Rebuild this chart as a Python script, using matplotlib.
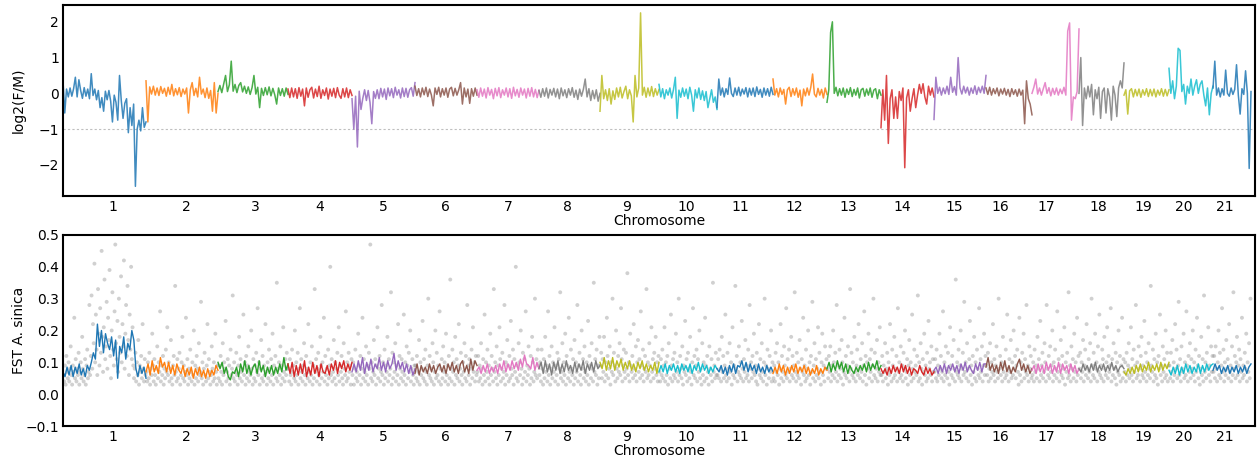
import numpy as np
import matplotlib.pyplot as plt

# cromosomas, longitudes aproximadas (Mb) y posicion de la etiqueta de cada uno
chrom_names = [str(i) for i in range(1, 22)]
chrom_len = [83, 72, 70, 64, 63, 62, 62, 61, 59, 58, 56, 54, 54, 53, 52, 46, 47, 45, 45, 44, 38]
chrom_center = [50, 123, 192, 257, 320, 382, 445, 504, 564, 623, 677, 731, 785, 839, 891, 937, 983,
                1035, 1080, 1121, 1162]

# log2(F/M) por ventana, un bloque por cromosoma
log2_fm = [
    [0.35, -0.55, 0.12, -0.1, 0.15, -0.08, 0.13, 0.45, -0.1, 0.38, 0.08, -0.14, 0.16, -0.08, 0.12, -0.15,
     0.55, -0.06, 0.12, -0.18, 0.08, -0.4, -0.12, -0.5, 0.06, -0.18, 0.08, -0.22, -0.8, -0.05, -0.25, -0.75,
     0.5, -0.2, -0.7, -0.28, -0.15, -1.1, -0.4, -0.9, -0.3, -2.6, -1.0, -0.75, -1.05, -0.4, -0.95, -0.8],
    [0.35, -0.8, 0.18, -0.02, 0.2, -0.05, 0.15, -0.06, 0.19, 0.0, 0.14, -0.08, 0.17, -0.03, 0.25, -0.07, 0.13,
     -0.04, 0.16, -0.09, 0.12, -0.02, 0.15, -0.55, 0.1, 0.3, -0.06, 0.14, -0.1, 0.45, -0.02, 0.12, -0.12, 0.15,
     -0.14, 0.08, -0.5, 0.3, -0.55, 0.0],
    [0.05, 0.22, 0.02, 0.26, 0.5, 0.05, 0.24, 0.9, 0.06, 0.25, 0.02, 0.22, 0.3, 0.04, 0.2, 0.0, 0.18, -0.03,
     0.16, 0.5, -0.02, 0.17, -0.4, 0.14, -0.06, 0.16, -0.04, 0.18, -0.07, 0.14, -0.04, -0.3, 0.15, -0.06, 0.13,
     -0.08, 0.15, -0.03],
    [0.12, -0.12, 0.15, -0.1, 0.13, -0.14, 0.16, -0.08, 0.12, -0.35, 0.15, -0.11, 0.1, 0.17, -0.13, 0.12, -0.09,
     0.2, -0.14, 0.1, -0.06, 0.15, -0.16, 0.12, -0.08, 0.14, -0.12, 0.16, -0.05, -0.14, 0.13, -0.1, 0.15, -0.12,
     0.1, -0.06],
    [-0.15, -1.0, -0.08, -1.5, 0.06, -0.45, -0.14, 0.1, -0.2, 0.08, -0.25, -0.85, 0.05, -0.14, 0.1, -0.15, 0.14,
     -0.1, 0.12, -0.17, 0.15, -0.07, 0.13, -0.12, 0.17, -0.05, 0.1, -0.13, 0.15, -0.09, 0.14, -0.11, 0.1, 0.16,
     -0.08, 0.3],
    [0.2, -0.06, 0.13, -0.1, 0.15, -0.04, 0.17, -0.09, 0.12, -0.05, -0.35, 0.15, -0.03, 0.17, -0.1, 0.13, -0.05,
     0.15, -0.11, 0.12, 0.17, -0.07, 0.14, -0.05, 0.1, 0.3, -0.3, 0.15, -0.1, 0.12, -0.28, 0.13, -0.08, 0.15, -0.05],
    [0.1, -0.11, 0.15, -0.08, 0.12, -0.13, 0.16, -0.05, 0.11, -0.15, 0.14, -0.07, 0.16, -0.12, 0.1, -0.05, 0.15,
     -0.1, 0.13, -0.14, 0.17, -0.07, 0.11, -0.11, 0.15, -0.05, 0.12, -0.13, 0.14, -0.08, 0.16, -0.1, 0.11, -0.12, 0.09],
    [0.08, -0.11, 0.13, -0.08, 0.15, -0.13, 0.11, -0.05, 0.14, -0.1, 0.12, -0.15, 0.15, -0.07, 0.1, -0.12, 0.13,
     -0.05, 0.16, -0.11, 0.09, -0.17, 0.12, -0.08, 0.11, 0.4, -0.1, 0.13, -0.2, 0.08, -0.15, 0.1, -0.22, 0.0],
    [-0.5, 0.5, -0.15, 0.1, -0.2, 0.13, -0.3, 0.07, -0.17, 0.15, -0.1, 0.17, -0.13, 0.05, 0.2, -0.15, 0.1, -0.07,
     -0.8, 0.5, -0.1, 0.15, 2.25, -0.05, 0.17, -0.11, 0.15, -0.07, 0.19, -0.09, 0.13, -0.05, 0.11],
    [0.25, -0.1, 0.13, -0.15, 0.1, -0.05, 0.15, -0.13, 0.11, 0.45, -0.7, 0.09, -0.11, 0.15, -0.08, 0.12, -0.15,
     0.17, -0.05, -0.5, 0.1, -0.13, 0.15, -0.17, 0.07, -0.2, 0.05, -0.4, -0.15, 0.1, -0.25, -0.1, -0.45],
    [-0.4, 0.4, -0.05, 0.15, -0.1, 0.13, -0.03, 0.43, 0.0, -0.09, 0.15, -0.05, 0.17, -0.07, 0.12, -0.02, 0.16,
     -0.1, 0.14, -0.05, 0.15, -0.09, 0.18, -0.03, 0.11, -0.11, 0.15, -0.05, 0.13, -0.08, 0.17, -0.03],
    [0.4, -0.05, 0.13, -0.1, 0.15, -0.03, 0.11, -0.3, 0.1, 0.17, -0.09, 0.13, -0.05, 0.15, -0.11, 0.09, -0.35,
     0.12, -0.07, 0.15, -0.05, 0.17, 0.54, -0.02, -0.1, 0.14, -0.05, 0.11, -0.13, 0.15, -0.03],
    [-0.25, 0.1, 1.7, 2.0, 0.0, 0.17, -0.07, 0.13, -0.05, 0.15, -0.11, 0.12, -0.03, 0.16, -0.09, 0.11, -0.05,
     0.15, -0.13, 0.1, 0.14, -0.08, 0.12, -0.05, 0.15, -0.11, 0.09, 0.13, -0.15, 0.1, -0.05],
    [-0.96, 0.1, -0.75, 0.5, -1.4, -0.15, 0.1, -0.7, -0.1, -0.7, 0.05, -0.2, 0.15, -2.08, -0.13, 0.1, -0.5,
     -0.15, 0.13, -0.4, -0.05, 0.25, 0.0, 0.27, -0.1, -0.3, 0.2, -0.05, 0.15, -0.1],
    [-0.73, 0.45, 0.0, 0.17, -0.05, 0.15, -0.01, 0.2, -0.03, 0.45, 0.03, 0.19, -0.05, 1.0, 0.15, -0.02, 0.2,
     0.01, 0.17, -0.05, 0.15, 0.0, 0.21, -0.03, 0.17, 0.02, 0.2, 0.0, 0.5],
    [0.15, -0.03, 0.17, -0.05, 0.13, -0.01, 0.15, -0.07, 0.12, -0.02, 0.14, -0.05, 0.11, -0.09, 0.13, -0.03,
     0.1, -0.08, 0.12, -0.05, 0.09, -0.85, 0.35, -0.15, -0.3, -0.6],
    [0.0, 0.17, 0.4, -0.02, 0.15, -0.05, 0.13, 0.3, 0.0, 0.16, -0.07, 0.14, -0.03, 0.15, -0.05, 0.12, -0.01,
     0.17, -0.05, 1.74, 1.97, -0.75, -0.1, -0.15, 0.05, 1.8],
    [0.0, 1.0, -0.9, 0.15, -0.15, 0.2, -0.1, 0.25, -0.6, 0.1, -0.15, 0.17, -0.7, 0.05, 0.15, -0.55, 0.13, -0.1,
     -0.75, 0.2, -0.05, -0.65, 0.15, 0.35, 0.15, 0.85],
    [-0.05, 0.1, -0.58, 0.07, 0.13, -0.1, 0.11, -0.07, 0.12, -0.11, 0.1, -0.05, 0.13, -0.09, 0.11, -0.07, 0.12,
     -0.1, 0.09, -0.05, 0.13, -0.08, 0.11, -0.07, 0.1],
    [0.7, 0.0, 0.35, -0.15, 0.2, 1.26, 1.2, 0.05, 0.25, -0.3, 0.2, 0.0, 0.4, -0.05, 0.2, 0.38, 0.0, 0.25, 0.35,
     -0.05, -0.35, 0.15, -0.6, 0.0, 0.2],
    [0.15, 0.9, -0.05, 0.15, -0.1, 0.13, -0.05, 0.65, 0.0, -0.08, 0.15, -0.03, 0.11, 0.8, -0.05, -0.58, 0.13,
     -0.03, 0.63, 0.0, -2.1, 0.05],
]

# FST media movil por cromosoma
fst_mean = [
    [0.07, 0.055, 0.085, 0.06, 0.09, 0.055, 0.085, 0.065, 0.095, 0.06, 0.08, 0.055, 0.09, 0.075, 0.1, 0.13, 0.11,
     0.22, 0.15, 0.2, 0.13, 0.19, 0.16, 0.14, 0.18, 0.12, 0.17, 0.05, 0.15, 0.13, 0.18, 0.11, 0.16, 0.14, 0.2,
     0.17, 0.08, 0.055, 0.09, 0.065, 0.085, 0.05],
    [0.07, 0.095, 0.06, 0.105, 0.07, 0.09, 0.065, 0.115, 0.085, 0.1, 0.07, 0.1, 0.065, 0.09, 0.06, 0.095, 0.075,
     0.065, 0.09, 0.055, 0.08, 0.06, 0.085, 0.05, 0.08, 0.06, 0.085, 0.055, 0.075, 0.05, 0.08, 0.055, 0.075,
     0.06, 0.09, 0.075],
    [0.1, 0.08, 0.1, 0.065, 0.085, 0.055, 0.045, 0.07, 0.065, 0.085, 0.055, 0.095, 0.07, 0.105, 0.065, 0.09, 0.06,
     0.085, 0.095, 0.065, 0.105, 0.07, 0.09, 0.055, 0.085, 0.065, 0.09, 0.06, 0.085, 0.065, 0.095, 0.07, 0.115,
     0.075, 0.095],
    [0.095, 0.065, 0.1, 0.055, 0.09, 0.06, 0.095, 0.065, 0.105, 0.055, 0.085, 0.06, 0.1, 0.065, 0.09, 0.055, 0.095,
     0.07, 0.065, 0.09, 0.06, 0.095, 0.075, 0.105, 0.065, 0.1, 0.08, 0.105, 0.07, 0.095, 0.075, 0.1],
    [0.07, 0.095, 0.07, 0.105, 0.075, 0.115, 0.065, 0.1, 0.075, 0.11, 0.07, 0.095, 0.08, 0.115, 0.075, 0.1, 0.07,
     0.105, 0.08, 0.095, 0.128, 0.075, 0.105, 0.08, 0.1, 0.07, 0.095, 0.065, 0.09, 0.06, 0.08],
    [0.065, 0.095, 0.06, 0.09, 0.07, 0.085, 0.065, 0.095, 0.07, 0.09, 0.065, 0.085, 0.095, 0.07, 0.09, 0.065, 0.095,
     0.075, 0.1, 0.07, 0.09, 0.065, 0.095, 0.105, 0.07, 0.09, 0.065, 0.11, 0.075, 0.105, 0.09],
    [0.075, 0.085, 0.065, 0.09, 0.07, 0.095, 0.065, 0.085, 0.07, 0.09, 0.065, 0.095, 0.075, 0.105, 0.07, 0.095, 0.075,
     0.105, 0.08, 0.1, 0.075, 0.11, 0.085, 0.123, 0.095, 0.09, 0.08, 0.115, 0.075, 0.1, 0.08],
    [0.08, 0.1, 0.065, 0.105, 0.07, 0.095, 0.06, 0.1, 0.075, 0.105, 0.065, 0.095, 0.07, 0.105, 0.075, 0.09, 0.065,
     0.1, 0.07, 0.095, 0.075, 0.105, 0.065, 0.095, 0.075, 0.1, 0.07, 0.105, 0.08, 0.09],
    [0.1, 0.08, 0.115, 0.075, 0.105, 0.08, 0.115, 0.075, 0.105, 0.085, 0.11, 0.075, 0.1, 0.08, 0.105, 0.075, 0.095,
     0.07, 0.1, 0.08, 0.105, 0.075, 0.095, 0.07, 0.09, 0.075, 0.1, 0.065, 0.1],
    [0.07, 0.09, 0.07, 0.095, 0.065, 0.09, 0.075, 0.095, 0.07, 0.09, 0.065, 0.095, 0.075, 0.09, 0.07, 0.095, 0.065,
     0.09, 0.075, 0.1, 0.07, 0.095, 0.075, 0.09, 0.065, 0.085, 0.07, 0.09, 0.08],
    [0.08, 0.07, 0.09, 0.065, 0.085, 0.06, 0.09, 0.07, 0.095, 0.065, 0.09, 0.085, 0.105, 0.075, 0.1, 0.07,
     0.095, 0.075, 0.09, 0.065, 0.095, 0.07, 0.085, 0.065, 0.09, 0.07, 0.085, 0.07],
    [0.065, 0.085, 0.065, 0.095, 0.07, 0.09, 0.06, 0.085, 0.065, 0.09, 0.07, 0.095, 0.065, 0.085, 0.07, 0.09, 0.065,
     0.085, 0.06, 0.08, 0.065, 0.09, 0.06, 0.08, 0.065, 0.085, 0.075],
    [0.08, 0.1, 0.07, 0.095, 0.075, 0.105, 0.08, 0.1, 0.07, 0.095, 0.065, 0.09, 0.075, 0.065, 0.085, 0.07, 0.09,
     0.075, 0.095, 0.07, 0.1, 0.075, 0.095, 0.08, 0.105, 0.075, 0.09],
    [0.08, 0.065, 0.08, 0.06, 0.085, 0.065, 0.09, 0.07, 0.085, 0.065, 0.095, 0.07, 0.09, 0.065, 0.085, 0.06, 0.08,
     0.075, 0.065, 0.09, 0.07, 0.06, 0.085, 0.065, 0.08, 0.06, 0.07],
    [0.075, 0.085, 0.065, 0.09, 0.07, 0.095, 0.065, 0.09, 0.075, 0.095, 0.07, 0.09, 0.065, 0.095, 0.075, 0.1, 0.07,
     0.09, 0.075, 0.065, 0.095, 0.075, 0.1, 0.07, 0.095, 0.095],
    [0.085, 0.115, 0.075, 0.095, 0.07, 0.09, 0.065, 0.1, 0.075, 0.105, 0.07, 0.09, 0.065, 0.085, 0.07, 0.095, 0.11,
     0.075, 0.095, 0.07, 0.09, 0.065, 0.08],
    [0.075, 0.09, 0.065, 0.095, 0.07, 0.09, 0.065, 0.1, 0.075, 0.095, 0.065, 0.09, 0.07, 0.1, 0.065, 0.095, 0.075,
     0.09, 0.065, 0.095, 0.07, 0.09, 0.065, 0.08],
    [0.08, 0.07, 0.095, 0.075, 0.09, 0.07, 0.095, 0.075, 0.1, 0.07, 0.09, 0.075, 0.095, 0.07, 0.09, 0.075, 0.1,
     0.075, 0.09, 0.07, 0.085, 0.09, 0.08],
    [0.07, 0.06, 0.08, 0.065, 0.085, 0.065, 0.09, 0.07, 0.095, 0.07, 0.09, 0.075, 0.1, 0.07, 0.09, 0.075, 0.095,
     0.07, 0.1, 0.075, 0.095, 0.08, 0.1],
    [0.075, 0.06, 0.085, 0.065, 0.09, 0.06, 0.085, 0.065, 0.095, 0.07, 0.09, 0.065, 0.085, 0.07, 0.095, 0.065, 0.09,
     0.07, 0.095, 0.075, 0.09, 0.095],
    [0.075, 0.095, 0.075, 0.09, 0.065, 0.085, 0.07, 0.09, 0.065, 0.085, 0.07, 0.09, 0.065, 0.085, 0.07, 0.09, 0.065,
     0.085, 0.095],
]

# FST por SNP/ventana (en centesimas)
fst_snp = [
    [6, 4, 9, 3, 12, 7, 5, 10, 4, 8, 15, 6, 3, 9, 7, 24, 5, 11, 4, 8, 6, 13, 3, 7, 10, 5, 18, 8, 4, 6,
     11, 3, 9, 14, 5, 7, 28, 6,
     12, 31, 8, 22, 16, 41, 10, 25, 14, 6, 33, 19, 9, 27, 13, 45, 18, 7, 21, 36, 11, 15, 29, 8, 24, 17,
     39, 12, 5, 20, 32, 14, 9, 26, 47, 16, 11, 23, 7, 30, 18, 13, 37, 10, 22, 15, 42, 8, 19, 28, 12, 34,
     17, 6, 25, 14, 40, 11, 21, 9,
     5, 8, 13, 4, 10, 6, 17, 3, 9, 7, 12, 5, 22, 8, 4, 11, 6],
    [7, 4, 10, 5, 13, 3, 8, 6, 19, 9, 4, 11, 6, 3, 8, 15, 5, 10, 7, 26, 4, 9, 6, 12, 3, 8, 5, 14, 7, 21,
     6, 10, 4, 8, 17, 5, 3, 9, 12, 6, 34, 7, 4, 11, 5, 8, 13, 3, 6, 10, 18, 5, 9, 4, 7, 24, 6, 11, 3, 8,
     5, 14, 7, 4, 10, 6, 20, 3, 9, 5, 12, 8, 4, 16, 6, 7, 29, 5, 10, 3, 8, 13, 6, 4, 9, 22, 5, 11, 7, 3,
     6, 15, 8, 4, 10, 5, 19, 7, 3, 9],
    [5, 9, 4, 12, 7, 3, 16, 6, 10, 8, 23, 4, 7, 11, 5, 9, 3, 14, 6, 8, 31, 5, 10, 4, 7, 13, 6, 3, 9, 18,
     5, 11, 7, 4, 8, 25, 6, 10, 3, 12, 5, 9, 15, 4, 7, 6, 20, 8, 3, 11, 5, 9, 4, 13, 7, 27, 6, 10, 3, 8,
     17, 5, 12, 4, 9, 6, 22, 7, 3, 10, 5, 14, 8, 4, 11, 6, 19, 3, 9, 7, 12, 5, 35, 4, 8, 10, 6, 15, 3, 9,
     5, 21, 7, 4, 11, 6, 13, 8],
    [8, 4, 11, 6, 3, 14, 7, 9, 5, 20, 4, 10, 6, 13, 3, 8, 27, 5, 11, 7, 4, 9, 16, 6, 3, 12, 8, 5, 22, 7,
     4, 10, 6, 15, 3, 9, 5, 33, 7, 11, 4, 8, 13, 6, 3, 18, 9, 5, 10, 7, 24, 4, 12, 6, 8, 3, 14, 5, 9, 40,
     6, 11, 4, 7, 17, 5, 10, 3, 8, 13, 6, 21, 4, 9, 7, 12, 5, 3, 16, 8, 6, 26, 4, 10, 5, 13, 7, 9, 3, 11],
    [6, 10, 3, 8, 14, 5, 7, 4, 19, 9, 6, 12, 3, 8, 24, 5, 11, 7, 4, 15, 6, 9, 3, 13, 8, 47, 5, 10, 4, 7,
     17, 6, 11, 3, 9, 21, 5, 8, 12, 4, 7, 28, 6, 10, 3, 14, 5, 9, 7, 18, 4, 11, 6, 8, 32, 3, 13, 5, 10, 7,
     16, 4, 9, 6, 22, 3, 12, 8, 5, 11, 7, 4, 25, 6, 10, 3, 15, 9, 5, 13, 7, 20, 4, 8, 11, 6, 3, 9],
    [9, 5, 12, 4, 7, 17, 3, 10, 6, 8, 23, 5, 11, 4, 14, 7, 3, 9, 30, 6, 12, 5, 8, 4, 16, 10, 3, 7, 20, 5,
     13, 6, 9, 4, 26, 8, 3, 11, 5, 15, 7, 10, 4, 19, 6, 9, 3, 12, 5, 36, 8, 4, 14, 7, 10, 3, 18, 6, 11, 5,
     9, 22, 4, 8, 13, 6, 3, 10, 7, 16, 5, 12, 4, 28, 9, 6, 11, 3, 8, 14, 5, 21, 7, 10, 4, 12, 6],
    [7, 12, 4, 9, 5, 16, 8, 3, 11, 6, 25, 4, 10, 7, 14, 5, 9, 3, 19, 6, 12, 8, 4, 33, 7, 10, 5, 15, 3, 9,
     6, 21, 11, 4, 8, 13, 5, 7, 28, 3, 10, 6, 17, 9, 4, 12, 5, 23, 8, 6, 14, 3, 11, 7, 40, 5, 9, 4, 16, 10,
     6, 20, 8, 3, 13, 5, 11, 7, 26, 4, 9, 6, 15, 8, 3, 12, 5, 18, 10, 4, 7, 30, 6, 11, 5, 14, 9],
    [6, 10, 4, 14, 8, 3, 11, 5, 18, 7, 9, 4, 26, 6, 12, 3, 8, 15, 5, 10, 7, 21, 4, 9, 6, 13, 3, 11, 8, 32,
     5, 7, 16, 4, 10, 6, 19, 3, 12, 9, 5, 24, 7, 4, 14, 8, 6, 11, 3, 17, 5, 10, 7, 28, 4, 9, 13, 6, 3, 20,
     8, 11, 5, 15, 7, 4, 10, 6, 23, 3, 12, 9, 5, 16, 8, 4, 35, 7, 11, 6, 14, 3, 9, 5, 18],
    [9, 13, 5, 11, 7, 18, 4, 10, 6, 24, 12, 5, 8, 15, 3, 10, 7, 30, 6, 13, 9, 4, 20, 8, 5, 12, 7, 16, 6, 27,
     11, 4, 9, 14, 7, 5, 13, 8, 38, 6, 10, 4, 19, 9, 7, 12, 5, 22, 8, 6, 15, 4, 10, 17, 7, 11, 5, 26, 9, 6,
     14, 4, 8, 12, 7, 33, 5, 10, 6, 16, 9, 4, 21, 7, 11, 5, 13, 8, 18, 6, 10, 4, 12],
    [7, 4, 11, 6, 14, 5, 9, 21, 4, 10, 6, 12, 3, 16, 8, 5, 25, 9, 4, 11, 6, 13, 5, 19, 7, 10, 4, 30, 6, 12,
     8, 5, 15, 3, 9, 7, 23, 6, 11, 4, 13, 8, 5, 18, 7, 3, 10, 27, 6, 12, 5, 9, 14, 4, 11, 7, 20, 5, 8, 3,
     16, 6, 10, 4, 24, 9, 5, 12, 7, 3, 15, 8, 6, 11, 4, 35, 7, 9, 5, 13, 6],
    [6, 11, 5, 14, 8, 4, 18, 7, 12, 5, 9, 25, 6, 4, 13, 8, 5, 16, 7, 10, 3, 21, 6, 9, 5, 34, 8, 12, 4, 7,
     15, 6, 10, 5, 23, 8, 4, 11, 7, 17, 5, 9, 6, 14, 4, 28, 8, 10, 5, 12, 7, 19, 6, 9, 4, 13, 3, 8, 22, 6,
     11, 5, 16, 7, 4, 10, 30, 6, 9, 3, 14, 8, 5, 12, 7, 20, 4, 10],
    [5, 9, 4, 13, 7, 16, 6, 10, 3, 8, 22, 5, 12, 7, 4, 15, 9, 6, 27, 5, 11, 7, 14, 4, 8, 18, 6, 12, 5, 9,
     32, 7, 4, 13, 6, 10, 5, 17, 8, 3, 11, 7, 24, 6, 9, 4, 14, 5, 8, 20, 6, 10, 3, 12, 7, 29, 5, 9, 16, 4,
     11, 6, 8, 21, 5, 13, 7, 3, 10, 19, 6, 9, 4, 15, 8, 11],
    [8, 5, 12, 7, 15, 4, 9, 6, 20, 10, 5, 13, 7, 28, 4, 9, 6, 14, 8, 5, 17, 10, 3, 7, 24, 6, 12, 5, 9, 15,
     7, 4, 33, 8, 13, 6, 10, 5, 18, 7, 4, 9, 14, 6, 22, 8, 5, 11, 7, 16, 4, 9, 26, 6, 12, 3, 10, 8, 19, 5,
     11, 7, 14, 4, 9, 30, 6, 13, 5, 8, 17, 4, 10, 7, 21, 6],
    [6, 12, 4, 9, 7, 16, 5, 8, 13, 3, 10, 6, 22, 7, 4, 14, 9, 5, 18, 6, 8, 12, 4, 27, 7, 10, 5, 15, 6, 9,
     4, 13, 8, 20, 5, 7, 11, 3, 9, 17, 6, 10, 4, 25, 8, 5, 14, 7, 9, 6, 12, 31, 4, 10, 5, 16, 8, 3, 11, 7,
     19, 6, 9, 4, 13, 5, 23, 8, 10, 6, 15, 4, 11, 7],
    [7, 11, 5, 14, 4, 9, 6, 19, 8, 12, 5, 7, 26, 4, 10, 6, 15, 8, 5, 13, 7, 3, 21, 9, 6, 12, 5, 17, 8, 4,
     36, 7, 10, 6, 14, 5, 9, 20, 4, 8, 13, 6, 29, 7, 10, 5, 16, 8, 4, 11, 23, 6, 9, 3, 12, 7, 18, 5, 10, 4,
     14, 8, 6, 27, 5, 11, 7, 15, 4, 9, 19, 6, 12],
    [9, 6, 13, 4, 8, 16, 5, 10, 7, 22, 6, 11, 4, 9, 15, 7, 5, 30, 8, 12, 6, 10, 4, 18, 7, 9, 5, 14, 6, 25,
     8, 4, 11, 7, 17, 5, 10, 6, 20, 8, 12, 5, 9, 14, 7, 3, 24, 6, 10, 4, 13, 8, 19, 5, 11, 7, 28, 6, 9, 4,
     15, 8, 12, 5],
    [6, 10, 4, 14, 7, 9, 5, 18, 8, 11, 4, 23, 6, 9, 13, 5, 7, 16, 10, 4, 28, 8, 6, 12, 5, 15, 7, 9, 20, 4,
     10, 6, 14, 8, 5, 26, 7, 11, 4, 9, 17, 6, 12, 5, 8, 21, 3, 10, 7, 13, 5, 32, 6, 9, 4, 15, 8, 11, 5, 19,
     7, 10, 4, 24, 6, 12],
    [8, 13, 5, 10, 7, 17, 4, 9, 14, 6, 22, 8, 5, 11, 7, 16, 4, 30, 9, 6, 13, 5, 19, 8, 10, 4, 15, 7, 25, 6,
     9, 5, 14, 11, 4, 18, 8, 6, 10, 21, 5, 12, 7, 9, 27, 4, 11, 6, 16, 8, 5, 13, 3, 10, 7, 20, 6, 12, 4, 9,
     24, 5, 11],
    [7, 10, 4, 13, 6, 9, 16, 5, 8, 21, 6, 11, 4, 14, 7, 9, 28, 5, 10, 6, 15, 8, 4, 12, 18, 6, 9, 5, 23, 7,
     13, 4, 10, 6, 16, 8, 5, 34, 9, 7, 14, 4, 11, 6, 19, 5, 10, 3, 12, 8, 25, 6, 9, 4, 15, 7, 11, 5, 20, 6,
     13, 4, 9],
    [9, 5, 13, 7, 17, 4, 10, 6, 22, 8, 14, 5, 9, 29, 6, 11, 4, 15, 8, 7, 19, 5, 10, 6, 26, 9, 4, 12, 7, 16,
     5, 11, 8, 20, 6, 10, 4, 14, 7, 24, 9, 5, 12, 3, 8, 18, 6, 11, 4, 31, 7, 10, 5, 13, 8, 21, 6, 9, 4, 15,
     7, 12],
    [7, 12, 5, 15, 8, 4, 10, 20, 6, 13, 5, 9, 27, 7, 14, 4, 10, 6, 17, 8, 11, 5, 22, 7, 9, 4, 15, 6, 32, 8,
     12, 5, 10, 18, 6, 9, 14, 4, 11, 7, 24, 5, 9, 6, 13, 8, 19, 4, 10, 7, 16, 5, 30],
]

colores = plt.rcParams['axes.prop_cycle'].by_key()['color']
inicio = np.concatenate([[0], np.cumsum(chrom_len)[:-1]])
total = sum(chrom_len)

fig = plt.figure(figsize=(12.57, 4.63), dpi=100)
ax1 = fig.add_axes([63 / 1257, 1 - 196 / 463, 1192 / 1257, 191 / 463])
ax2 = fig.add_axes([63 / 1257, 1 - 426 / 463, 1192 / 1257, 191 / 463])

# Panel superior: log2(F/M)
ax1.axhline(-1, color='0.75', lw=0.8, ls=(0, (2, 2)), zorder=1)
for i, vals in enumerate(log2_fm):
    x = np.linspace(inicio[i], inicio[i] + chrom_len[i], len(vals))
    ax1.plot(x, vals, color=colores[i % 10], lw=1.1, alpha=0.85, zorder=2)
ax1.set_ylim(-2.87, 2.47)
ax1.set_yticks([-2, -1, 0, 1, 2])
ax1.set_ylabel('log2(F/M)')

# Panel inferior: FST
for i, vals in enumerate(fst_snp):
    x = np.linspace(inicio[i] + 0.5, inicio[i] + chrom_len[i] - 0.5, len(vals))
    ax2.scatter(x, np.array(vals) / 100.0, s=8, color='0.4', alpha=0.3, edgecolors='none', zorder=1)
for i, vals in enumerate(fst_mean):
    x = np.linspace(inicio[i], inicio[i] + chrom_len[i], len(vals))
    ax2.plot(x, vals, color=colores[i % 10], lw=1, zorder=2)
ax2.set_ylim(-0.1, 0.5)
ax2.set_yticks([-0.1, 0.0, 0.1, 0.2, 0.3, 0.4, 0.5])
ax2.set_ylabel('FST A. sinica')

for ax in (ax1, ax2):
    ax.set_xlim(0, total + 4)
    ax.set_xticks(chrom_center)
    ax.set_xticklabels(chrom_names)
    ax.set_xlabel('Chromosome', fontsize=10, labelpad=0)
    ax.yaxis.label.set_fontsize(10)
    ax.yaxis.set_label_coords(-0.031, 0.5)
    ax.tick_params(length=0, labelsize=10, pad=3)
    for s in ax.spines.values():
        s.set_linewidth(1.5)

plt.savefig('out.png', dpi=100)
